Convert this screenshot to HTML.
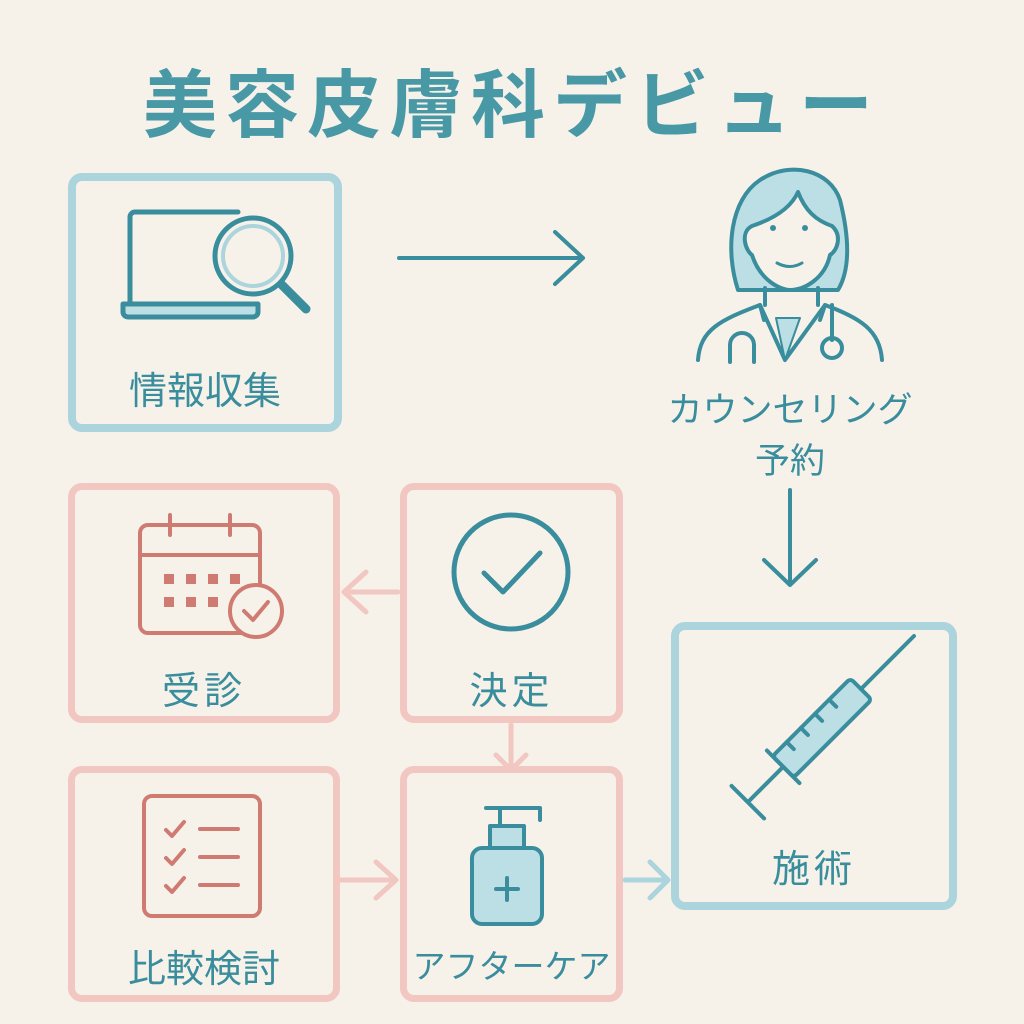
<!DOCTYPE html>
<html><head><meta charset="utf-8"><style>
html,body{margin:0;padding:0;background:#f6f2ea;}
body{width:1024px;height:1024px;position:relative;overflow:hidden;font-family:"Liberation Sans","Noto Sans CJK JP",sans-serif;}
.t{position:absolute;color:#3a8d9c;white-space:nowrap;text-align:center;}
.box{position:absolute;box-sizing:border-box;border-radius:14px;}
.b{border:8px solid #acd4dd;}
.p{border:7px solid #f2c6c1;}
</style></head><body>
<div class="t" style="left:0;width:1024px;top:46px;font-size:74px;letter-spacing:8px;font-weight:bold;color:#4898a6;">美容皮膚科デビュー</div>

<div class="box b" style="left:68px;top:173px;width:274px;height:259px;"></div>
<div class="box p" style="left:68px;top:483px;width:272px;height:240px;"></div>
<div class="box p" style="left:400px;top:483px;width:223px;height:240px;"></div>
<div class="box p" style="left:68px;top:766px;width:272px;height:236px;"></div>
<div class="box p" style="left:400px;top:766px;width:223px;height:236px;"></div>
<div class="box b" style="left:671px;top:622px;width:286px;height:288px;"></div>

<svg width="1024" height="1024" style="position:absolute;left:0;top:0" fill="none" stroke-linecap="round" stroke-linejoin="round">
 <g stroke="#3a8d9c" stroke-width="5">
  <path d="M238 212 H135 a5 5 0 0 0 -5 5 V303"/>
  <path d="M123 304 H258 v8 a5 5 0 0 1 -5 5 H128 a5 5 0 0 1 -5 -5z" fill="#bcdfe6"/>
  <circle cx="253" cy="256" r="38" fill="#f6f2ea"/>
  <circle cx="253" cy="256" r="30" stroke="#acd4dd" stroke-width="4"/>
  <path d="M282 285 L306 309" stroke-width="9"/>
 </g>
 <g stroke="#3a8d9c" stroke-width="4">
  <path d="M738 290 C725 250 730 200 760 180 C790 160 830 170 840 200 C850 240 850 270 838 290 Z" fill="#bcdfe6"/>
  <path d="M798 192 C790 210 770 220 752 226 C740 232 745 250 752 255 C760 280 780 290 790 290 C805 290 825 278 830 255 C838 250 842 235 832 226 C815 220 805 210 798 192Z" fill="#f6f2ea"/>
  <path d="M765 288 V305 M818 288 V305"/>
  <path d="M698 360 C700 330 720 320 760 305 L785 360 L825 305 C860 318 880 330 882 360" />
  <path d="M764 320 L760 305 M820 320 L825 305"/>
  <path d="M730 362 V345 a12 12 0 0 1 24 0 V362"/>
  <path d="M832 305 V340"/><circle cx="832" cy="348" r="10"/>
  <path d="M776 318 L785 360 L800 318Z" fill="#bcdfe6" stroke-width="2"/>
 </g>
 <circle cx="773" cy="228" r="3" fill="#3a8d9c"/><circle cx="805" cy="228" r="3" fill="#3a8d9c"/>
 <path d="M777 263 Q790 270 802 263" stroke="#3a8d9c" stroke-width="3"/>
 <g stroke="#3a8d9c" stroke-width="4">
  <path d="M399 258 H583 M555 232 L583 258 L555 284"/>
  <path d="M790 490 V585 M764 560 L790 585 L816 560"/>
 </g>
 <g stroke="#f2c6c1" stroke-width="5">
  <path d="M398 592 H344 M366 572 L344 592 L366 612"/>
  <path d="M511 725 V770 M496 755 L511 770 L526 755"/>
  <path d="M340 880 H396 M376 862 L396 880 L376 898"/>
 </g>
 <g stroke="#acd4dd" stroke-width="5">
  <path d="M625 880 H668 M650 862 L668 880 L650 898"/>
 </g>
 <g stroke="#cf7b72" stroke-width="4">
  <rect x="140" y="525" width="120" height="108" rx="8"/>
  <path d="M140 555 H260 M170 515 V535 M230 515 V535"/>
  <circle cx="256" cy="611" r="26" fill="#f6f2ea"/>
  <path d="M244 611 L253 620 L268 602"/>
 </g>
 <g fill="#cf7b72">
  <rect x="164" y="574" width="10" height="10"/><rect x="186" y="574" width="10" height="10"/><rect x="208" y="574" width="10" height="10"/><rect x="230" y="574" width="10" height="10"/>
  <rect x="164" y="597" width="10" height="10"/><rect x="186" y="597" width="10" height="10"/><rect x="208" y="597" width="10" height="10"/>
 </g>
 <g stroke="#3a8d9c" stroke-width="5"><circle cx="511" cy="572" r="57"/><path d="M484 573 L503 592 L540 553"/></g>
 <g stroke="#cf7b72" stroke-width="4">
  <rect x="144" y="796" width="116" height="120" rx="8"/>
  <path d="M166 830 L172 836 L184 822 M166 858 L172 864 L184 850 M166 886 L172 892 L184 878"/>
  <path d="M200 829 H238 M200 857 H238 M200 885 H238"/>
 </g>
 <g stroke="#3a8d9c" stroke-width="4">
  <rect x="472" y="848" width="70" height="76" rx="10" fill="#bcdfe6"/>
  <rect x="490" y="826" width="34" height="22" fill="#bcdfe6"/>
  <path d="M500 826 V808 H540 V820 M486 808 H500"/>
  <path d="M507 878 V900 M496 889 H518"/>
 </g>
 <g stroke="#3a8d9c" stroke-width="4" transform="rotate(-45 815 735)">
  <rect x="770" y="720" width="110" height="30" rx="4" fill="#bcdfe6"/>
  <path d="M880 735 H900 M900 735 H955"/>
  <path d="M770 735 H720 M720 712 V758 M770 712 V758"/>
  <path d="M790 720 V730 M810 720 V730 M830 720 V730 M850 720 V730"/>
 </g>
</svg>

<div class="t" style="left:68px;width:274px;top:360px;font-size:38px;">情報収集</div>
<div class="t" style="left:640px;width:300px;top:382px;font-size:35px;">カウンセリング</div>
<div class="t" style="left:640px;width:300px;top:433px;font-size:35px;">予約</div>
<div class="t" style="left:68px;width:272px;top:660px;font-size:38px;letter-spacing:4px;">受診</div>
<div class="t" style="left:400px;width:223px;top:660px;font-size:38px;letter-spacing:4px;">決定</div>
<div class="t" style="left:68px;width:272px;top:938px;font-size:38px;">比較検討</div>
<div class="t" style="left:400px;width:223px;top:940px;font-size:33px;">アフターケア</div>
<div class="t" style="left:671px;width:286px;top:838px;font-size:38px;letter-spacing:4px;">施術</div>
</body></html>
